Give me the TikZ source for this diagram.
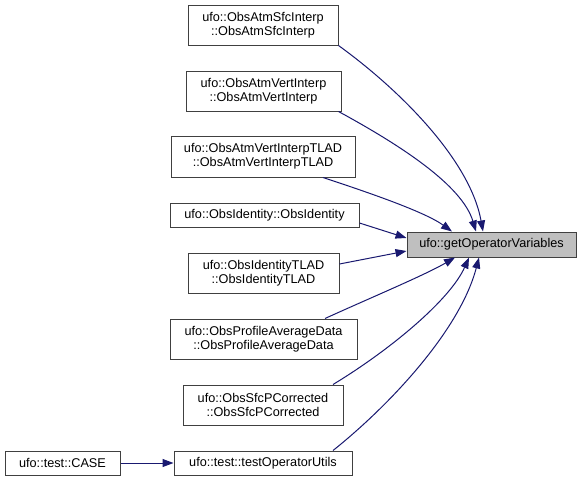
\documentclass[tikz,border=0pt]{standalone}
\usepackage{fontspec}
\setmainfont{Liberation Sans}
\usetikzlibrary{arrows.meta}
\definecolor{edgecol}{HTML}{191970}
\definecolor{boxcol}{HTML}{404040}
\definecolor{mainfill}{HTML}{BFBFBF}
\begin{document}
\begin{tikzpicture}[x=1pt,y=-1pt,
  box/.style={draw=boxcol, line width=1pt, fill=white, rectangle, inner sep=0pt,
    align=center, font=\fontsize{12.7}{14}\selectfont},
  mainbox/.style={box, fill=mainfill},
  edge/.style={draw=edgecol, line width=1pt, -{Triangle[length=11pt,width=8pt]}}]
\useasboundingbox (0,0) rectangle (581,482);
\fill[white] (0,0) rectangle (581,482);
\node[box, minimum width=150pt, minimum height=40pt] (n1) at (263,25) {ufo::ObsAtmSfcInterp\\::ObsAtmSfcInterp};
\node[box, minimum width=155pt, minimum height=40pt] (n2) at (263.5,91) {ufo::ObsAtmVertInterp\\::ObsAtmVertInterp};
\node[box, minimum width=184pt, minimum height=41pt] (n3) at (263,156.5) {ufo::ObsAtmVertInterpTLAD\\::ObsAtmVertInterpTLAD};
\node[box, minimum width=189pt, minimum height=24pt] (n4) at (264.5,215) {ufo::ObsIdentity::ObsIdentity};
\node[box, minimum width=151pt, minimum height=40pt] (n5) at (263.5,273) {ufo::ObsIdentityTLAD\\::ObsIdentityTLAD};
\node[box, minimum width=187pt, minimum height=40pt] (n6) at (263.5,339) {ufo::ObsProfileAverageData\\::ObsProfileAverageData};
\node[box, minimum width=160pt, minimum height=40pt] (n7) at (263,405) {ufo::ObsSfcPCorrected\\::ObsSfcPCorrected};
\node[box, minimum width=178pt, minimum height=24pt] (n8) at (263,463) {ufo::test::testOperatorUtils};
\node[box, minimum width=115pt, minimum height=24pt] (case) at (62.5,463) {ufo::test::CASE};
\node[mainbox, minimum width=169pt, minimum height=25pt] (main) at (491.5,244.5) {ufo::getOperatorVariables};

\draw[edge] (n1.south east) .. controls (400,90) and (470,160) .. ([xshift=-8.5pt]main.north);
\draw[edge] ([xshift=-3pt]n2.south east) .. controls (400,145) and (462,185) .. ([xshift=-15.5pt]main.north);
\draw[edge] ([xshift=60pt]n3.south) .. controls (370,193) and (425,212) .. ([xshift=-39.5pt]main.north);
\draw[edge] ([yshift=-8pt]n4.east) -- ([yshift=6.5pt]main.west);
\draw[edge] ([yshift=9pt]n5.east) -- ([yshift=-6.5pt]main.west);
\draw[edge] ([xshift=61.5pt]n6.north) .. controls (370,298) and (425,275) .. ([xshift=-36.5pt]main.south);
\draw[edge] ([xshift=70pt]n7.north) .. controls (390,350) and (450,300) .. ([xshift=-22.5pt]main.south);
\draw[edge] ([xshift=70pt]n8.north) .. controls (390,405) and (460,330) .. ([xshift=-12.5pt]main.south);
\draw[edge] (case.east) -- (n8.west);
\end{tikzpicture}
\end{document}
